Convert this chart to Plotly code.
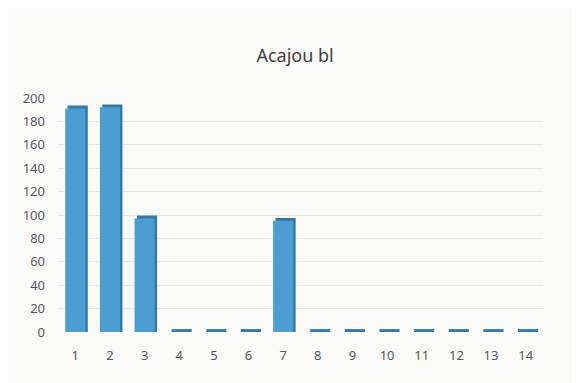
import plotly.graph_objects as go

# Acajou bl - counts per class
categories = [str(i) for i in range(1, 15)]
values = [191, 192, 97, 0, 0, 0, 95, 0, 0, 0, 0, 0, 0, 0]

depth = 2.5  # fake 3d depth, in data units
back = [v + depth for v in values]

fig = go.Figure()

# dark back face, shifted right, gives top + side of the 3d column
fig.add_trace(go.Bar(
    x=categories, y=back, base=0,
    width=0.58, offset=-0.22,
    marker=dict(color="#3579a8", line=dict(width=0)),
    hoverinfo="skip",
))
# front face
fig.add_trace(go.Bar(
    x=categories, y=values,
    width=0.58, offset=-0.29,
    marker=dict(color="#4d9ed0", line=dict(width=0)),
))

fig.update_layout(
    width=580, height=383,
    barmode="overlay",
    showlegend=False,
    paper_bgcolor="#fafaf9",
    plot_bgcolor="#fafaf9",
    margin=dict(l=50, r=45, t=90, b=59),
    title=dict(text="Acajou bl", x=0.495, xanchor="center", y=0.875, yanchor="middle",
               font=dict(family="Noto Sans", size=18, color="#404040")),
    font=dict(family="Noto Sans", size=13, color="#595959"),
)
fig.update_xaxes(showgrid=False, showline=False, ticks="", ticklabelstandoff=14)
fig.update_yaxes(range=[0, 200], dtick=20, showgrid=True, gridcolor="#e8e8e8",
                 zeroline=False, showline=False, ticks="", ticklabelstandoff=12)

fig.write_html("out.html")
